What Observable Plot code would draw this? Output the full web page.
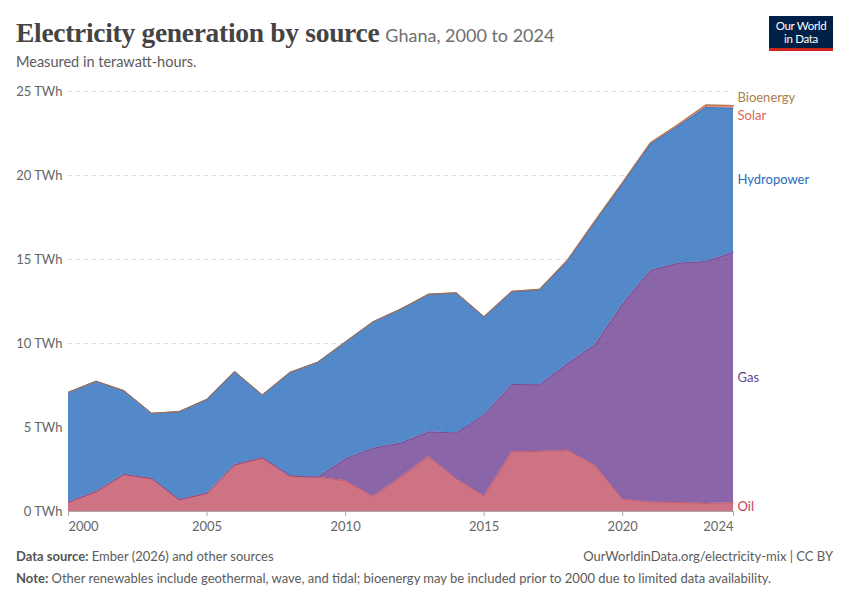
<!DOCTYPE html>
<html>
<head>
<meta charset="utf-8">
<script src="https://cdn.jsdelivr.net/npm/d3@7"></script>
<script src="https://cdn.jsdelivr.net/npm/@observablehq/plot@0.6"></script>
<style>
  html, body { margin: 0; padding: 0; background: #fff; }
  #wrap { position: relative; width: 850px; height: 600px; overflow: hidden; font-family: Lato, "Noto Sans", sans-serif; }
  #title { position: absolute; left: 16px; top: 17px; white-space: nowrap; }
  #title .t { font-family: "Liberation Serif", "DejaVu Serif", serif; font-weight: bold; font-size: 27.5px; color: #444; letter-spacing: -0.3px; }
  #title .s { font-family: Lato, sans-serif; font-size: 18px; color: #6e6e6e; margin-left: 6px; }
  #sub { position: absolute; left: 16px; top: 53px; font-size: 14.5px; color: #5b5b5b; }
  #logo { position: absolute; left: 769px; top: 16px; width: 64px; height: 35px; background: #002147; color: #fff; font-size: 11.5px; line-height: 12.5px; text-align: center; box-sizing: border-box; padding-top: 4px; border-bottom: 3px solid #ce261e; letter-spacing: -0.3px; }
  #chart { position: absolute; left: 0; top: 70px; }
  .foot { position: absolute; font-size: 13px; color: #5b5b5b; white-space: nowrap; }
  .foot b { font-weight: bold; color: #555; }
</style>
</head>
<body>
<div id="wrap">
  <div id="title"><span class="t">Electricity generation by source</span><span class="s">Ghana, 2000 to 2024</span></div>
  <div id="sub">Measured in terawatt-hours.</div>
  <div id="logo">Our World<br>in Data</div>
  <div id="chart"></div>
  <div class="foot" style="left:16px; top:548px;"><b>Data source:</b> Ember (2026) and other sources</div>
  <div class="foot" style="right:17px; top:548px;">OurWorldinData.org/electricity-mix | CC BY</div>
  <div class="foot" style="left:16px; top:570px;"><b>Note:</b> Other renewables include geothermal, wave, and tidal; bioenergy may be included prior to 2000 due to limited data availability.</div>
</div>
<script>
const years = [2000,2001,2002,2003,2004,2005,2006,2007,2008,2009,2010,2011,2012,2013,2014,2015,2016,2017,2018,2019,2020,2021,2022,2023,2024];
const oil = [0.55,1.19,2.20,1.96,0.70,1.09,2.78,3.19,2.12,2.04,1.83,0.89,2.04,3.27,1.94,0.93,3.55,3.57,3.65,2.76,0.73,0.55,0.54,0.48,0.52];
const gas = [0,0,0,0,0,0,0,0,0,0,1.31,2.88,2.03,1.47,2.74,4.82,4.01,3.97,5.14,7.16,11.63,13.80,14.24,14.40,14.91];
const hydro = [6.54,6.56,4.99,3.88,5.24,5.58,5.54,3.74,6.16,6.84,6.95,7.52,7.98,8.18,8.32,5.82,5.51,5.65,6.11,7.32,7.16,7.51,8.15,9.17,8.57];
const solar = [0,0,0,0,0,0,0,0,0,0,0,0,0,0.01,0.01,0.02,0.03,0.03,0.04,0.05,0.06,0.07,0.09,0.12,0.14];
const bio = [0.01,0.01,0.01,0.01,0.01,0.01,0.01,0.01,0.01,0.01,0.01,0.01,0.01,0.01,0.01,0.01,0.01,0.01,0.01,0.01,0.02,0.02,0.02,0.03,0.03];
const sources = ["Oil","Gas","Hydropower","Solar","Bioenergy"];
const fillColors = ["#C15065","#6D3E91","#286BBB","#E56E5A","#996D39"];
const labelColors = ["#C4405C","#6D3E91","#2A6ABB","#E0655A","#A8804F"];
const yTicks = [0,5,10,15,20,25];
const xTicks = [2000,2005,2010,2015,2020,2024];

const series = {Oil: oil, Gas: gas, Hydropower: hydro, Solar: solar, Bioenergy: bio};
const data = [];
years.forEach((yr, i) => sources.forEach(s => data.push({year: yr, source: s, value: series[s][i]})));

// label positions: midpoint of each band at the last year, then de-overlap
const W = 850, H = 470, mt = 21, mb = 29, ml = 68, mr = 117;
const yMax = 25;
const pxPerUnit = (H - mt - mb) / yMax;
const last = years.length - 1;
let cum = 0;
const labels = sources.map((s, k) => {
  const v = series[s][last];
  const mid = cum + v / 2;
  cum += v;
  return {source: s, year: years[last], y: mid, color: labelColors[k]};
});
const gap = 18 / pxPerUnit;
for (let iter = 0; iter < 200; iter++) {
  let moved = false;
  for (let k = 0; k < labels.length - 1; k++) {
    const a = labels[k], b = labels[k + 1];
    const d = b.y - a.y;
    if (d < gap - 1e-6) {
      const push = (gap - d) / 2;
      a.y -= push; b.y += push; moved = true;
    }
  }
  if (!moved) break;
}

const firstTick = xTicks.slice(0, 1);
const midTicks = xTicks.slice(1, -1);
const lastTick = xTicks.slice(-1);
const xLabel = (ticks, anchor) => Plot.text(ticks, {x: d => d, frameAnchor: "bottom", lineAnchor: "middle", dy: 15,
  text: d => String(d), fill: "#666", fontSize: 13, textAnchor: anchor});

const plot = Plot.plot({
  width: W, height: H,
  marginTop: mt, marginBottom: mb, marginLeft: ml, marginRight: mr,
  style: {fontFamily: "Lato, sans-serif", fontSize: "13px", color: "#666", background: "transparent", overflow: "visible"},
  x: {domain: [2000, 2024]},
  y: {domain: [0, yMax]},
  color: {domain: sources, range: fillColors},
  marks: [
    Plot.gridY(yTicks.filter(d => d > 0), {stroke: "#dcdcdc", strokeOpacity: 1, strokeDasharray: "4,4"}),
    Plot.areaY(data, {x: "year", y: "value", fill: "source", order: sources, fillOpacity: 0.8}),
    Plot.line(data, Plot.stackY2({x: "year", y: "value", z: "source", stroke: "source", order: sources, strokeWidth: 0.8, strokeOpacity: 0.85})),
    Plot.ruleY([0], {stroke: "#aaa"}),
    Plot.axisY(yTicks, {tickSize: 0, tickPadding: 6, tickFormat: d => d + " TWh", fill: "#666", fontSize: 13, label: null}),
    Plot.axisX(xTicks, {tickSize: 5, stroke: "#aaa", tickFormat: () => "", label: null}),
    xLabel(firstTick, "start"),
    xLabel(midTicks, "middle"),
    xLabel(lastTick, "end"),
    Plot.text(labels, {x: "year", y: "y", text: "source", fill: "color", dx: 4, textAnchor: "start", fontSize: 13})
  ]
});
document.getElementById("chart").appendChild(plot);
</script>
</body>
</html>
